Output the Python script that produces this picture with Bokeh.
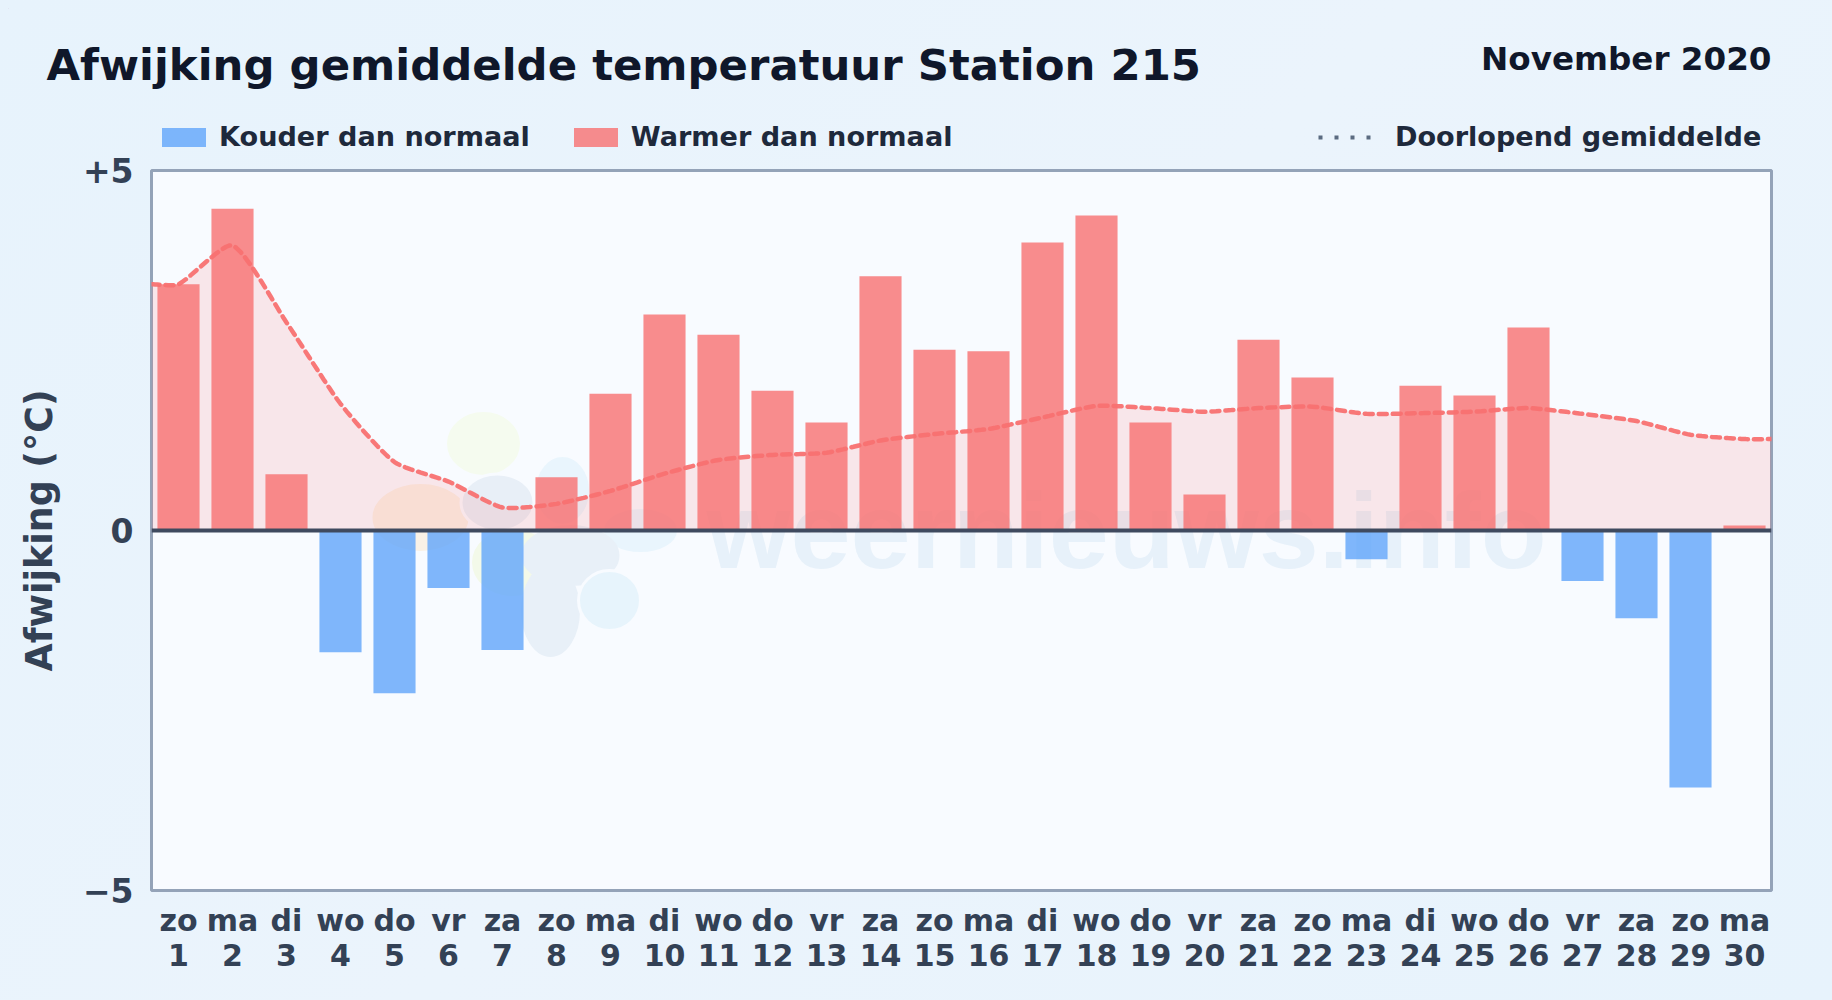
from bokeh.embed import file_html
from bokeh.resources import INLINE
from bokeh.plotting import figure
from bokeh.layouts import column
from bokeh.core.properties import value
from bokeh.models import Range1d, FixedTicker, Span, Label, Legend, LegendItem, ColumnDataSource, LinearAxis

days = list(range(1, 31))
weekdays = ["zo","ma","di","wo","do","vr","za","zo","ma","di","wo","do","vr","za","zo",
            "ma","di","wo","do","vr","za","zo","ma","di","wo","do","vr","za","zo","ma"]
deviation = [3.42, 4.47, 0.78, -1.69, -2.26, -0.80, -1.66, 0.74, 1.90, 3.00,
             2.72, 1.94, 1.50, 3.53, 2.51, 2.49, 4.00, 4.375, 1.50, 0.50,
             2.65, 2.125, -0.40, 2.01, 1.875, 2.82, -0.70, -1.22, -3.57, 0.07]
running_mean = [3.42, 3.96, 2.89, 1.76, 0.95, 0.68, 0.32, 0.37, 0.55, 0.79,
                0.98, 1.05, 1.08, 1.25, 1.34, 1.41, 1.57, 1.73, 1.70, 1.65,
                1.70, 1.72, 1.62, 1.63, 1.65, 1.70, 1.62, 1.52, 1.33, 1.27]
title_text = "Afwijking gemiddelde temperatuur Station 215"
period_text = "November 2020"
y_ticks = {5: "+5", 0: "0", -5: "\u22125"}

FONT = "DejaVu Sans"
L, R, T, B = 151, 1771, 170, 890   # frame edges on the page
OX, OY = 8, 8
HEAD_B = 154                       # page y where the header strip ends
OVERLAP = 6                        # the chart's border may lie over the header strip


def dx(px):
    return 0.5 + (px - L) / (R - L) * 30


def dy(py):
    return 5 - (py - T) / (B - T) * 10


def smooth(xs, ys, tension=0.2, n=12):
    """Cardinal rendering of the curve through the read points, in page proportions."""
    sxk, syk = (R - L) / 30, (B - T) / 10
    P = [(x * sxk, y * syk) for x, y in zip(xs, ys)]
    ox, oy = [], []
    cps = []
    for i in range(len(P)):
        p0, p1, p2 = P[max(i - 1, 0)], P[i], P[min(i + 1, len(P) - 1)]
        d01 = ((p1[0] - p0[0]) ** 2 + (p1[1] - p0[1]) ** 2) ** 0.5
        d12 = ((p2[0] - p1[0]) ** 2 + (p2[1] - p1[1]) ** 2) ** 0.5
        s = d01 + d12 or 1
        fa, fb = tension * d01 / s, tension * d12 / s
        cps.append(((p1[0] - fa * (p2[0] - p0[0]), p1[1] - fa * (p2[1] - p0[1])),
                    (p1[0] + fb * (p2[0] - p0[0]), p1[1] + fb * (p2[1] - p0[1]))))
    for i in range(len(P) - 1):
        a, b, c, d = P[i], cps[i][1], cps[i + 1][0], P[i + 1]
        for k in range(n):
            t = k / n
            u = 1 - t
            ox.append((u**3 * a[0] + 3 * u * u * t * b[0] + 3 * u * t * t * c[0] + t**3 * d[0]) / sxk)
            oy.append((u**3 * a[1] + 3 * u * u * t * b[1] + 3 * u * t * t * c[1] + t**3 * d[1]) / syk)
    ox.append(xs[-1])
    oy.append(ys[-1])
    return ox, oy


# header strip: title, period, legends
head = figure(width=1832 - 2 * OX, height=HEAD_B - OY,
              x_range=Range1d(OX, 1832 - OX), y_range=Range1d(HEAD_B, OY),
              x_axis_location=None, y_axis_location=None,
              min_border=0, min_border_left=0, min_border_right=0, min_border_top=0, min_border_bottom=0,
              output_backend="svg", toolbar_location=None, frame_align=False,
              margin=(0, 0, -OVERLAP, 0),
              background_fill_color=None, border_fill_color=None, outline_line_color=None)
head.grid.visible = False
head.add_layout(Label(x=46, y=64, text=title_text, text_font=FONT, text_font_style="bold",
                      text_font_size="43.4px", text_color="#0f172a", text_baseline="alphabetic"))
head.add_layout(Label(x=1771, y=58.5, text=period_text, text_font=FONT, text_font_style="bold",
                      text_font_size="32.6px", text_color="#0f172a", text_align="right", text_baseline="alphabetic"))
# legend keys: marks placed off the strip, used only for their swatches
k_cold = head.vbar(x=[-500], top=[0], bottom=[-1], width=1, fill_color="#60a5fa", fill_alpha=0.8, line_color=None)
k_warm = head.vbar(x=[-500], top=[0], bottom=[-1], width=1, fill_color="#f87171", fill_alpha=0.8, line_color=None)
k_mean = head.line(x=[-500, -499], y=[0, 0], line_color="#5b6b80", line_width=4, line_dash="4 12")
common = dict(border_line_color=None, background_fill_alpha=0, padding=0, margin=0,
              label_text_font=FONT, label_text_font_style="bold", label_text_font_size="27.1px",
              label_text_color="#1e293b", orientation="horizontal")
lg1 = Legend(items=[LegendItem(label="Kouder dan normaal", renderers=[k_cold]),
                    LegendItem(label="Warmer dan normaal", renderers=[k_warm])],
             location=(156 - OX, HEAD_B - 152), glyph_width=55, glyph_height=24, label_standoff=8, spacing=38, **common)
lg2 = Legend(items=[LegendItem(label="Doorlopend gemiddelde", renderers=[k_mean])],
             location=(1318 - OX, HEAD_B - 152), glyph_width=55, glyph_height=24, label_standoff=22, **common)
head.add_layout(lg1)
head.add_layout(lg2)

# chart
p = figure(frame_width=R - L, frame_height=B - T, frame_align=False,
           min_border_left=L - OX, min_border_right=1832 - OX - R,
           min_border_top=T - HEAD_B + OVERLAP, min_border_bottom=1000 - OY - OY - (B - OY),
           x_range=Range1d(0.5, 30.5), y_range=Range1d(-5, 5),
           output_backend="svg", toolbar_location=None,
           background_fill_color="#f8fbff", border_fill_color=None,
           outline_line_color="#94a3b8", outline_line_width=3)
p.grid.visible = False

# faint logo and watermark behind the chart
blobs = [
    (562, 490, 56, 70, "#e9f5fd", "#f8fbff"),
    (640, 530, 70, 40, "#e9f5fd", "#e9f5fd"),
    (420, 517, 93, 64, "#f9f1e6", "#f9f1e6"),
    (483, 443, 70, 60, "#f5fbef", "#f5fbef"),
    (512, 562, 84, 70, "#f3f9e9", "#f8fbff"),
    (497, 502, 73, 57, "#e8eff7", "#f8fbff"),
    (550, 610, 56, 90, "#e8f0f8", "#e8f0f8"),
    (570, 555, 95, 58, "#e8f0f8", "#e8f0f8"),
    (609, 600, 62, 60, "#e7f4fc", "#f8fbff"),
]
for cx, cy, w, h, col, edge in blobs:
    p.ellipse(x=[dx(cx)], y=[dy(cy)], width=w / (R - L) * 30, height=h / (B - T) * 10,
              fill_color=col, line_color=edge, line_width=3)
p.text(x=[dx(706)], y=[dy(530)], text=["weernieuws.info"], text_font=value("Liberation Sans"),
       text_font_style="bold", text_font_size="108px", text_color="#60a0cd", text_alpha=0.11,
       text_baseline="alphabetic")

# running mean area
sx, sy = smooth([0.5] + days + [30.5], [running_mean[0]] + running_mean + [running_mean[-1]])
p.varea(x=sx, y1=[0] * len(sx), y2=sy, fill_color="#f87171", fill_alpha=0.15)

cold = ColumnDataSource(dict(x=[d for d, v in zip(days, deviation) if v < 0], top=[v for v in deviation if v < 0]))
warm = ColumnDataSource(dict(x=[d for d, v in zip(days, deviation) if v >= 0], top=[v for v in deviation if v >= 0]))
p.vbar(x="x", top="top", bottom=0, width=0.78, source=cold, fill_color="#60a5fa", fill_alpha=0.8, line_color=None)
p.vbar(x="x", top="top", bottom=0, width=0.78, source=warm, fill_color="#f87171", fill_alpha=0.8, line_color=None)
p.line(sx, sy, line_color="#f87171", line_width=4.5, line_dash="8 6", line_cap="round", line_alpha=0.95)

p.add_layout(Span(location=0, dimension="width", line_color="#3f4a5f", line_width=4, level="overlay"))

# axes
ax = p.xaxis[0]
ax.ticker = FixedTicker(ticks=days)
ax.major_label_overrides = {d: w for d, w in zip(days, weekdays)}
ax2 = LinearAxis(ticker=FixedTicker(ticks=days), major_label_overrides={d: str(d) for d in days})
p.add_layout(ax2, "below")
ay = p.yaxis[0]
ay.ticker = FixedTicker(ticks=list(y_ticks))
ay.major_label_overrides = y_ticks
for a in (ax, ax2, ay):
    a.axis_line_color = None
    a.major_tick_line_color = None
    a.minor_tick_line_color = None
    a.major_label_text_font = FONT
    a.major_label_text_font_style = "bold"
    a.major_label_text_color = "#334155"
ax.major_label_text_font_size = "30px"
ax.major_label_standoff = 6
ax2.major_label_text_font_size = "30px"
ax2.major_label_standoff = -3
ay.major_label_text_font_size = "33px"
ay.major_label_standoff = 12
ay.axis_label = "Afwijking (\u00b0C)"
ay.axis_label_text_font = FONT
ay.axis_label_text_font_style = "bold"
ay.axis_label_text_font_size = "36.4px"
ay.axis_label_text_color = "#334155"
ay.axis_label_standoff = 19

html = file_html(column(head, p, spacing=0), INLINE)
css = ("<style>html{height:100%;background:linear-gradient(135deg,#e7f3fc 0%,#ebf4fc 50%,#e7f3fc 100%);}"
       "body{background:transparent;margin:8px;}</style>")
html = html.replace("</head>", css + "</head>", 1)
open("out.html", "w").write(html)
